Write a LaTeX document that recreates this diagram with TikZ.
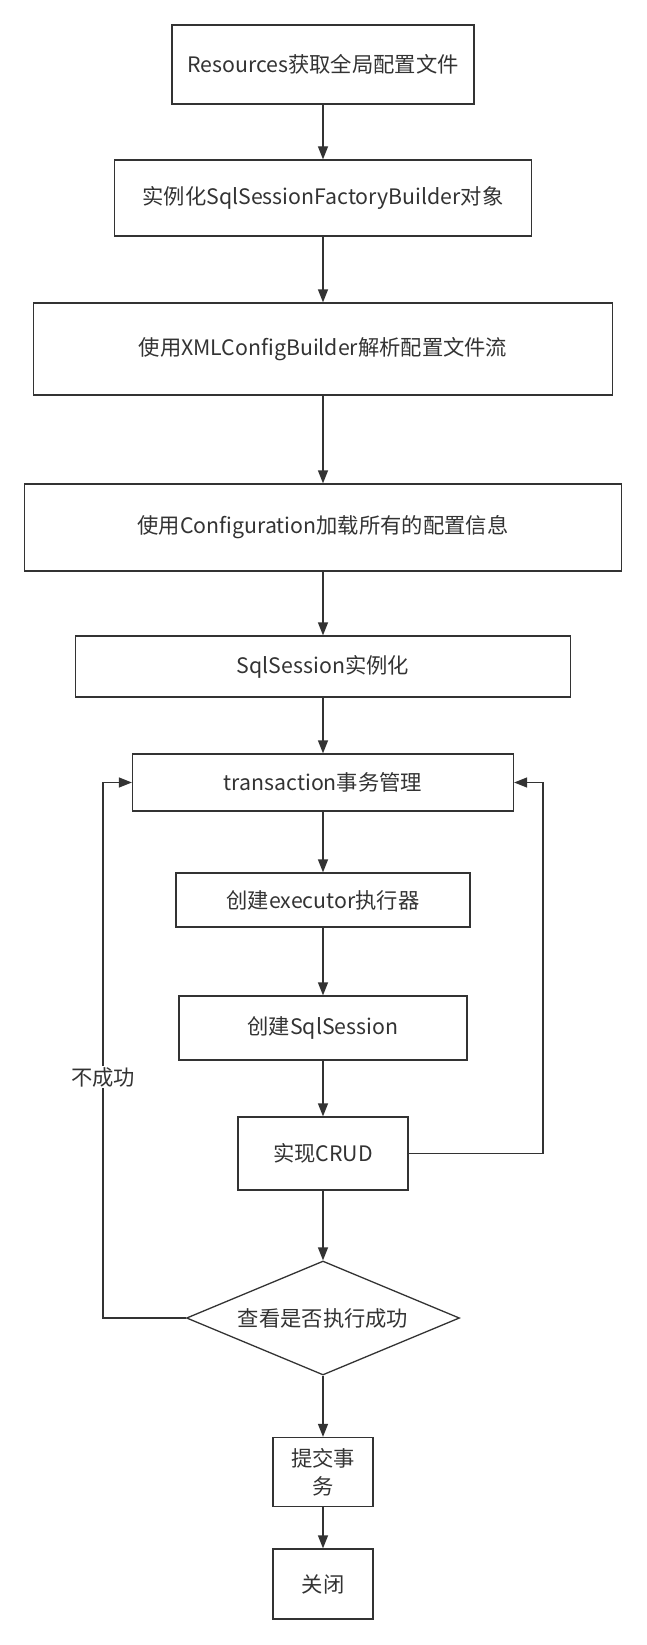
\documentclass[tikz,border=0pt]{standalone}
\usepackage{fontspec}
\setmainfont{Noto Sans CJK SC}
\usetikzlibrary{arrows.meta,shapes.geometric}
\definecolor{inkgray}{HTML}{333333}

\begin{document}
\begin{tikzpicture}[x = 1pt, y = -1pt,
  box/.style = {draw = inkgray, line width = 1.3pt, inner sep = 0pt, align = center},
  decision/.style = {diamond, draw = inkgray, line width = 1.3pt, inner sep = 0pt, shape aspect = 2.4},
  flow/.style = {draw = inkgray, line width = 1.3pt, -{Triangle[length = 13pt, width = 10pt]}},
  font = \fontsize{21.3}{28}\selectfont, text = inkgray]

\useasboundingbox (0, 0) rectangle (647, 1645);

\node[box, minimum width = 302pt, minimum height = 79pt] (res) at (323, 64.5) {Resources获取全局配置文件};
\node[box, minimum width = 417pt, minimum height = 76pt] (sfb) at (323, 198) {实例化SqlSessionFactoryBuilder对象};
\node[box, minimum width = 579pt, minimum height = 92pt] (xml) at (323, 349) {使用XMLConfigBuilder解析配置文件流};
\node[box, minimum width = 597pt, minimum height = 87pt] (conf) at (323, 527.5) {使用Configuration加载所有的配置信息};
\node[box, minimum width = 495pt, minimum height = 61pt] (sess) at (323, 666.5) {SqlSession实例化};
\node[box, minimum width = 381pt, minimum height = 57pt] (trans) at (323, 782.5) {transaction事务管理};
\node[box, minimum width = 294pt, minimum height = 54pt] (exec) at (323, 900) {创建executor执行器};
\node[box, minimum width = 288pt, minimum height = 64pt] (crt) at (323, 1028) {创建SqlSession};
\node[box, minimum width = 170pt, minimum height = 73pt] (crud) at (323, 1153.5) {实现CRUD};
\node[decision, minimum width = 273pt, minimum height = 114pt] (chk) at (323, 1318) {查看是否执行成功};
\node[box, minimum width = 100pt, minimum height = 69pt] (commit) at (323, 1472) {提交事\\务};
\node[box, minimum width = 100pt, minimum height = 70pt] (close) at (323, 1584) {关闭};

\draw[flow] (res) -- (sfb);
\draw[flow] (sfb) -- (xml);
\draw[flow] (xml) -- (conf);
\draw[flow] (conf) -- (sess);
\draw[flow] (sess) -- (trans);
\draw[flow] (trans) -- (exec);
\draw[flow] (exec) -- (crt);
\draw[flow] (crt) -- (crud);
\draw[flow] (crud) -- (chk);
\draw[flow] (chk) -- (commit);
\draw[flow] (commit) -- (close);

% loops back to the transaction box
\coordinate (loopL) at (103, 1318);
\coordinate (loopR) at (543, 1153.5);
\draw[flow] (chk.west) -- (loopL) |- (trans.west);
\draw[flow] (crud.east) -- (loopR) |- (trans.east);

\node[fill = white, inner sep = 1pt] (fail) at (103, 1077) {不成功};

\end{tikzpicture}
\end{document}
